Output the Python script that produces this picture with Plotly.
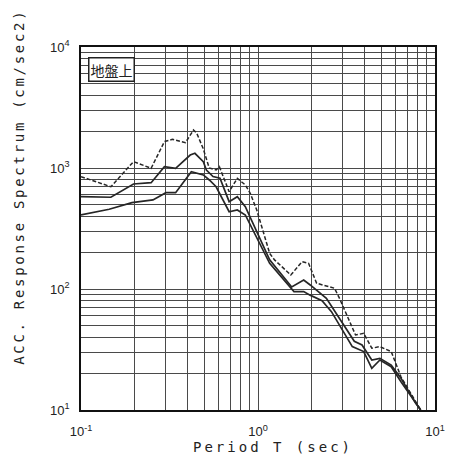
import plotly.graph_objects as go

# Period T (sec) and ACC response spectrum (cm/sec2) for the three curves
period_upper = [0.1, 0.1475, 0.198, 0.249, 0.296, 0.3285, 0.389, 0.432, 0.451, 0.49, 0.53, 0.58, 0.605,
                0.687, 0.764, 0.848, 0.904, 0.984, 1.164, 1.24, 1.532, 1.774, 1.931, 2.145, 2.706,
                2.884, 3.557, 3.956, 4.395, 4.883, 5.658, 6.424, 6.84, 7.93, 8.3]
acc_upper = [848, 700, 1128, 995, 1652, 1727, 1618, 2061, 1935, 1450, 1000, 963, 1025,
             637, 822, 724, 618, 450, 197, 174, 130.5, 168, 163, 111.5, 101.4,
             84, 41.7, 43.0, 32.4, 33.4, 30.4, 18.8, 16.1, 11.0, 10]

period_mid = [0.1, 0.1475, 0.198, 0.249, 0.296, 0.3424, 0.414, 0.44, 0.491, 0.511, 0.557, 0.61,
              0.687, 0.764, 0.848, 1.164, 1.55, 1.812, 1.972, 2.434, 3.5, 3.87, 4.395, 4.883,
              5.658, 6.424, 7.77, 8.3]
acc_mid = [579, 573, 738, 756, 1025, 995, 1280, 1323, 1128, 963, 850, 822,
           527, 579, 479, 174, 104, 118.7, 108, 83.8, 37, 34.5, 25.9, 26.7,
           23.5, 18.3, 11.4, 10]

period_low = [0.1, 0.1443, 0.194, 0.255, 0.302, 0.3424, 0.42, 0.491, 0.531, 0.58, 0.687, 0.764,
              0.848, 1.164, 1.597, 1.812, 1.97, 2.3, 2.6, 3.41, 3.956, 4.395, 4.883, 5.658,
              6.424, 8.09, 8.3]
acc_low = [409, 456, 517, 545, 625, 625, 932, 876, 796, 700, 435, 450,
           409, 163, 95.2, 95.2, 89, 80, 65, 33.4, 30.4, 22.1, 25.9, 22.8,
           17.1, 10.6, 10]

x_major = [0.1, 1, 10]
x_labels = ["10<sup>-1</sup>", "10<sup>0</sup>", "10<sup>1</sup>"]
x_minor = [m * 10 ** e for e in (-1, 0) for m in range(2, 10)]
y_major = [10, 100, 1000, 10000]
y_labels = ["10<sup>1</sup>", "10<sup>2</sup>", "10<sup>3</sup>", "10<sup>4</sup>"]
y_minor = [m * 10 ** e for e in (1, 2, 3) for m in range(2, 10)]

line_color = "#262626"
fig = go.Figure()
fig.add_trace(go.Scatter(x=period_upper, y=acc_upper, mode="lines",
                         line=dict(color=line_color, width=1.5, dash="4px,2px"), showlegend=False))
fig.add_trace(go.Scatter(x=period_mid, y=acc_mid, mode="lines",
                         line=dict(color=line_color, width=1.7), showlegend=False))
fig.add_trace(go.Scatter(x=period_low, y=acc_low, mode="lines",
                         line=dict(color=line_color, width=1.7), showlegend=False))

grid = "#4a4a4a"
tick_font = dict(family="Liberation Sans Narrow, Liberation Sans, Arial", size=13, color="#222")
fig.update_xaxes(type="log", range=[-1, 1], tickvals=x_major, ticktext=x_labels,
                 showgrid=True, gridcolor=grid, gridwidth=1, zeroline=False,
                 minor=dict(tickvals=x_minor, showgrid=True, gridcolor=grid, gridwidth=1, ticks=""),
                 showline=True, mirror=True, linecolor="#111", linewidth=1.5,
                 ticks="", tickfont=tick_font, ticklabelstandoff=9)
fig.update_yaxes(type="log", range=[1, 4], tickvals=y_major, ticktext=y_labels,
                 showgrid=True, gridcolor=grid, gridwidth=1, zeroline=False,
                 minor=dict(tickvals=y_minor, showgrid=True, gridcolor=grid, gridwidth=1, ticks=""),
                 showline=True, mirror=True, linecolor="#111", linewidth=1.5,
                 ticks="", tickfont=tick_font, ticklabelstandoff=7)

title_font = dict(family="DejaVu Sans Mono, monospace", size=14, color="#222")
fig.add_annotation(text='<span style="letter-spacing:2.7px">ACC. Response Spectrum (cm/sec2)</span>',
                   xref="paper", yref="paper",
                   x=-0.176, y=0.614, textangle=-90, showarrow=False, font=title_font,
                   xanchor="center", yanchor="middle")
fig.add_annotation(text='<span style="letter-spacing:3px">Period T (sec)</span>',
                   xref="paper", yref="paper",
                   x=0.542, y=-0.103, showarrow=False, font=title_font,
                   xanchor="center", yanchor="middle")
fig.add_annotation(text="地盤上", xref="paper", yref="paper", x=0.019, y=0.972,
                   xanchor="left", yanchor="top", showarrow=False,
                   font=dict(family="Noto Sans CJK JP", size=14, color="#222"),
                   bordercolor="#222", borderwidth=1.5, borderpad=1, bgcolor="white")

fig.update_layout(width=455, height=458, margin=dict(l=81, r=10, t=47, b=48),
                  plot_bgcolor="white", paper_bgcolor="white")
fig.write_html("out.html")
